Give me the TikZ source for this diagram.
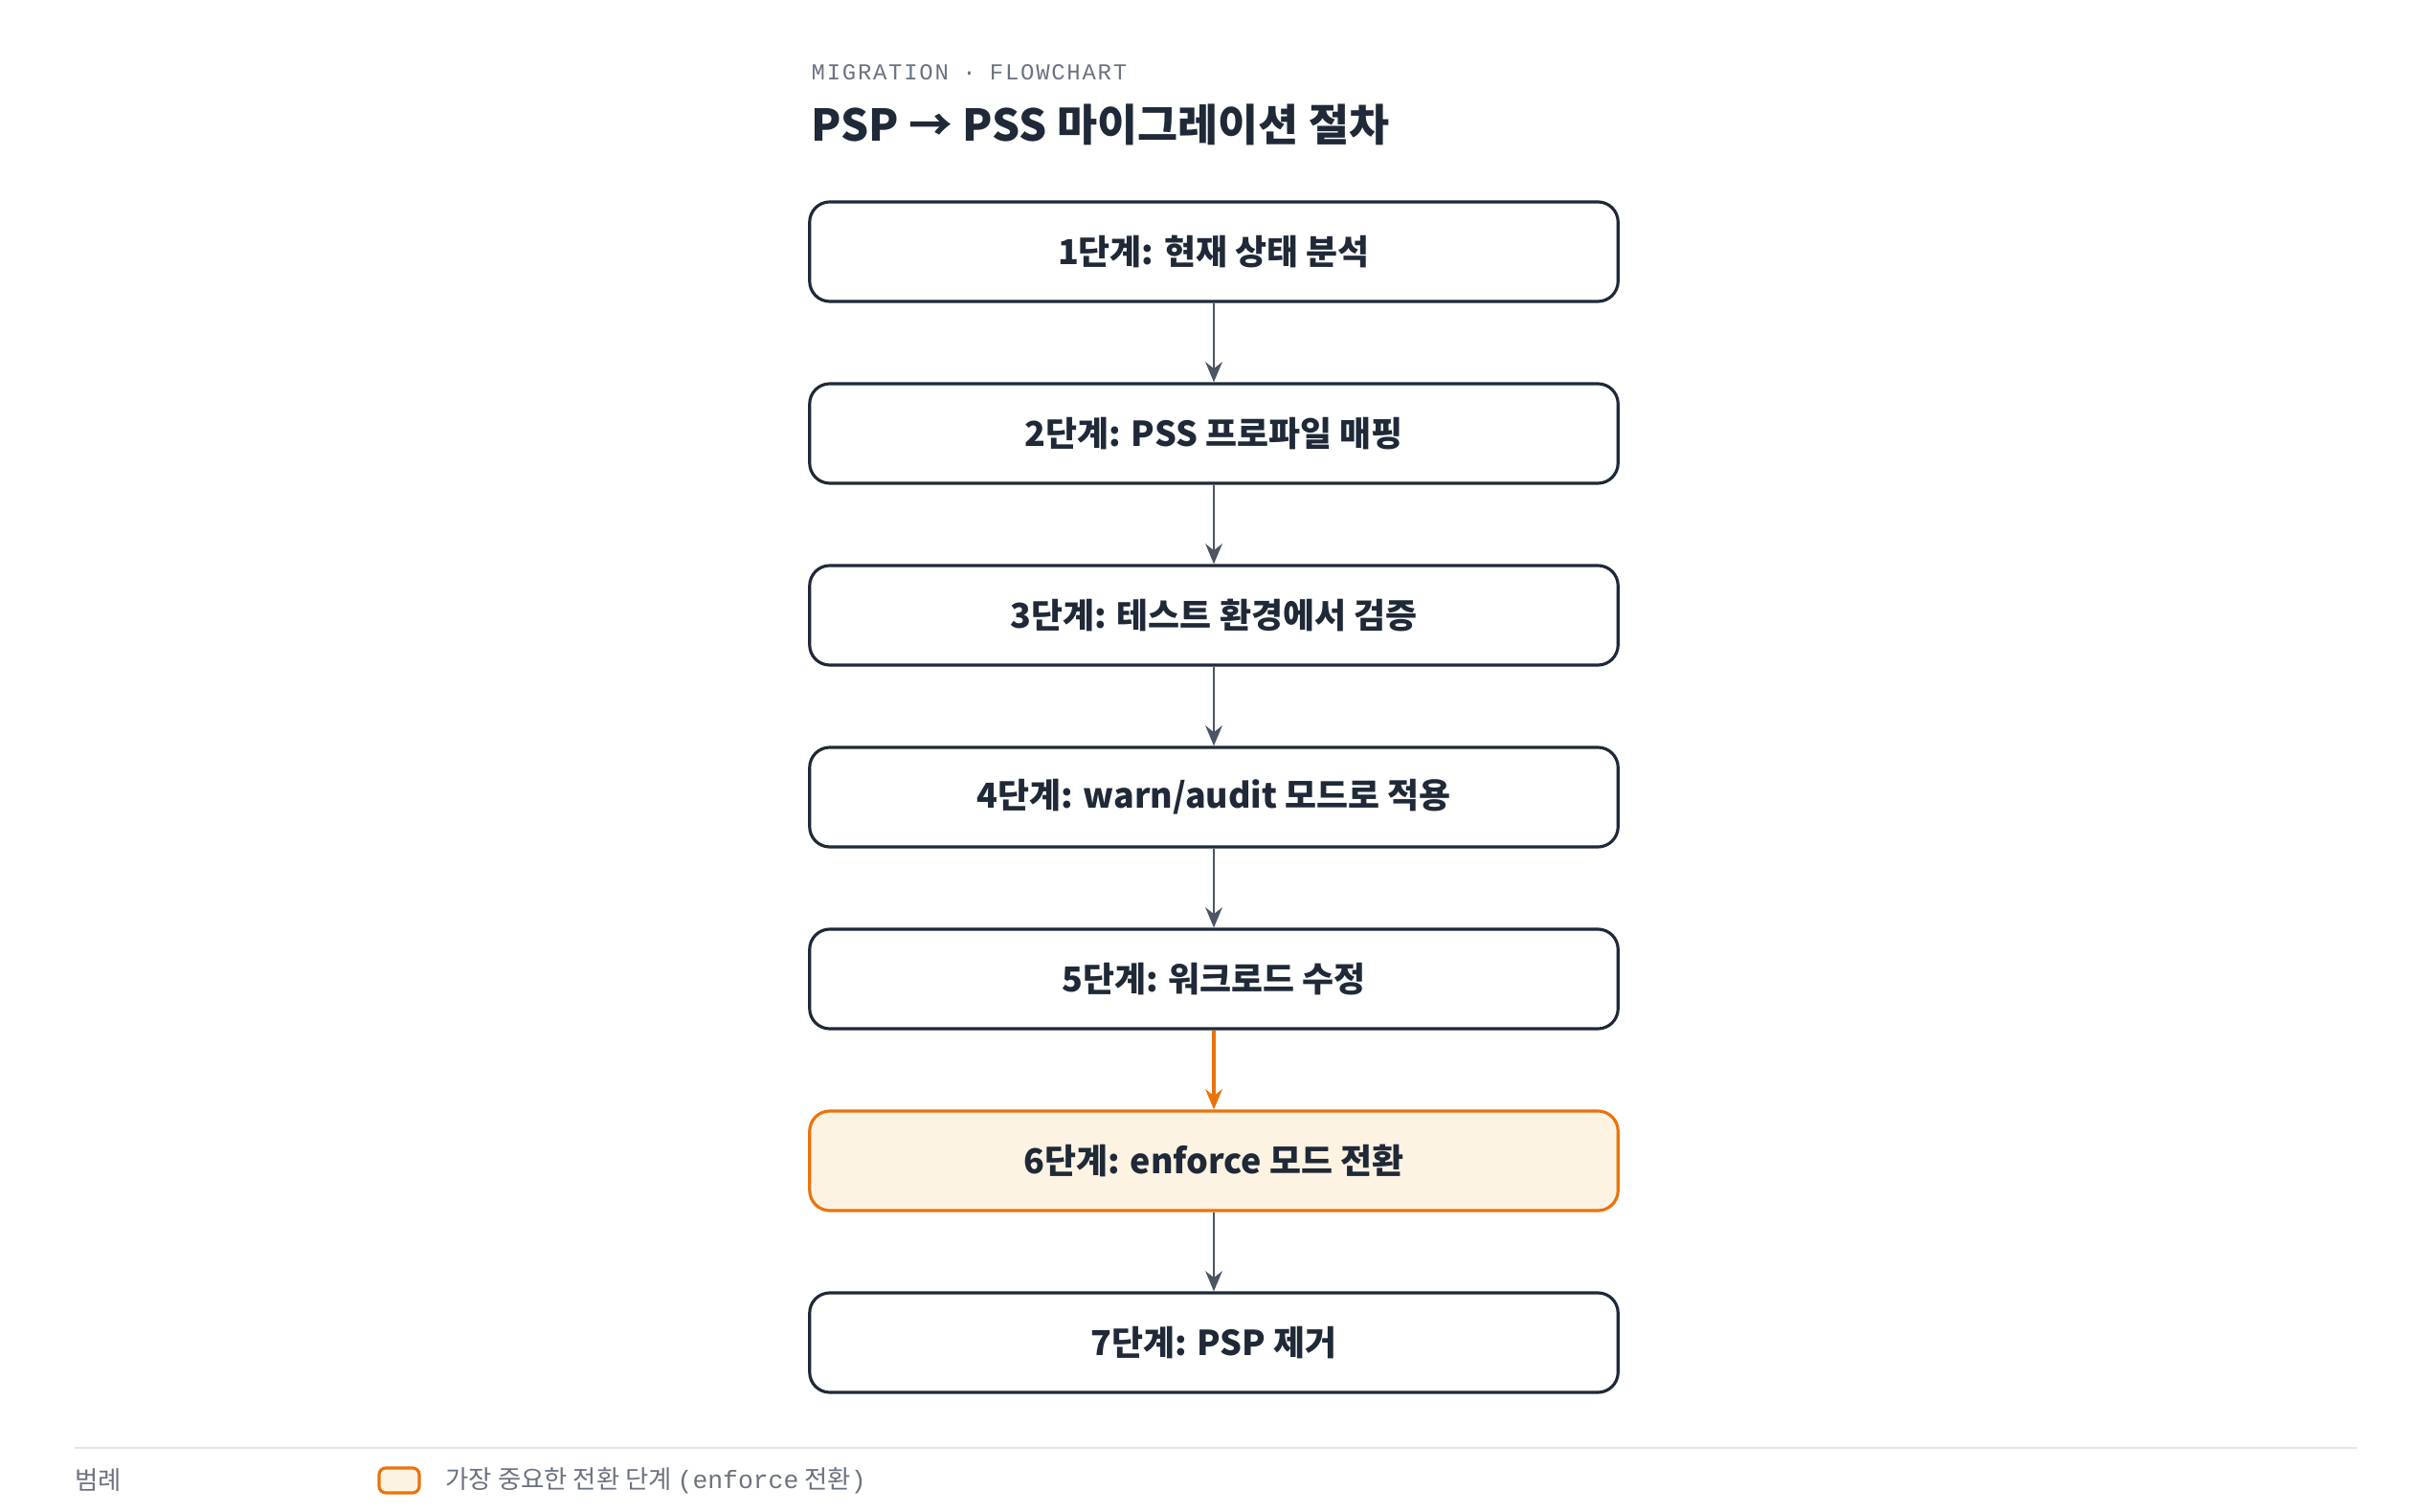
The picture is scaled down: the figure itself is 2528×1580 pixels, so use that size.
\documentclass[tikz,border=0pt]{standalone}
\usepackage{fontspec}
\setmainfont{Noto Sans CJK KR}
\newfontfamily\monofont{Liberation Mono}
\newfontfamily\monokr{Noto Sans CJK KR}
\usetikzlibrary{arrows.meta,positioning}
\definecolor{ink}{HTML}{1F2937}
\definecolor{wire}{HTML}{4B5563}
\definecolor{hot}{HTML}{EA730C}
\definecolor{hotfill}{HTML}{FDF3E3}
\definecolor{muted}{HTML}{6B7280}
\tikzset{
  stage/.style={rectangle, draw=ink, line width=0.9pt, fill=white, rounded corners=6pt,
    minimum width=8.44cm, minimum height=1.04cm, font=\bfseries\fontsize{10.2}{12}\selectfont, text=ink},
  key/.style={stage, draw=hot, fill=hotfill},
  flow/.style={draw=wire, line width=0.7pt, -{Stealth[length=6pt,width=5pt]}},
  hotflow/.style={flow, draw=hot, line width=0.9pt}
}
\begin{document}
\begin{tikzpicture}[x=0.01cm, y=-0.01cm]
  \useasboundingbox (0,0) rectangle (2528,1580);
  % heading
  \node [anchor=west, inner sep=0pt, text=muted, font=\monofont\fontsize{6.8}{8}\selectfont] (kicker) at (847,76)
    {M\kern.5pt I\kern.5pt G\kern.5pt R\kern.5pt A\kern.5pt T\kern.5pt I\kern.5pt O\kern.5pt N\ · F\kern.5pt L\kern.5pt O\kern.5pt W\kern.5pt C\kern.5pt H\kern.5pt A\kern.5pt R\kern.5pt T};
  \node [anchor=west, inner sep=0pt, text=ink, font=\bfseries\fontsize{13}{16}\selectfont] (title) at (847,130)
    {PSP → PSS 마이그레이션 절차};
  % steps
  \node [stage] (s1) at (1268,263) {1단계: 현재 상태 분석};
  \node [stage] (s2) at (1268,453) {2단계: PSS 프로파일 매핑};
  \node [stage] (s3) at (1268,643) {3단계: 테스트 환경에서 검증};
  \node [stage] (s4) at (1268,833) {4단계: warn/audit 모드로 적용};
  \node [stage] (s5) at (1268,1023) {5단계: 워크로드 수정};
  \node [key] (s6) at (1268,1213) {6단계: enforce 모드 전환};
  \node [stage] (s7) at (1268,1403) {7단계: PSP 제거};
  \foreach \a/\b in {s1/s2,s2/s3,s3/s4,s4/s5,s6/s7}
    \draw [flow] (\a) -- (\b);
  \draw [hotflow] (s5) -- (s6);
  % legend
  \coordinate (ruleL) at (78,1513);
  \coordinate (ruleR) at (2462,1513);
  \draw [draw=black!10, line width=0.8pt] (ruleL) -- (ruleR);
  \node [anchor=west, inner sep=0pt, text=muted, font=\monokr\fontsize{7.5}{9}\selectfont] (legtitle) at (78,1547) {범례};
  \node [draw=hot, fill=hotfill, line width=0.9pt, rounded corners=2pt, minimum width=0.42cm,
    minimum height=0.26cm, inner sep=0pt] (legbox) at (417,1547) {};
  \node [anchor=west, inner sep=0pt, text=muted, font=\monokr\fontsize{7.5}{9}\selectfont] (legtext) at (465,1547)
    {가장 중요한 전환 단계 {\monofont(enforce} 전환{\monofont)}};
\end{tikzpicture}
\end{document}
